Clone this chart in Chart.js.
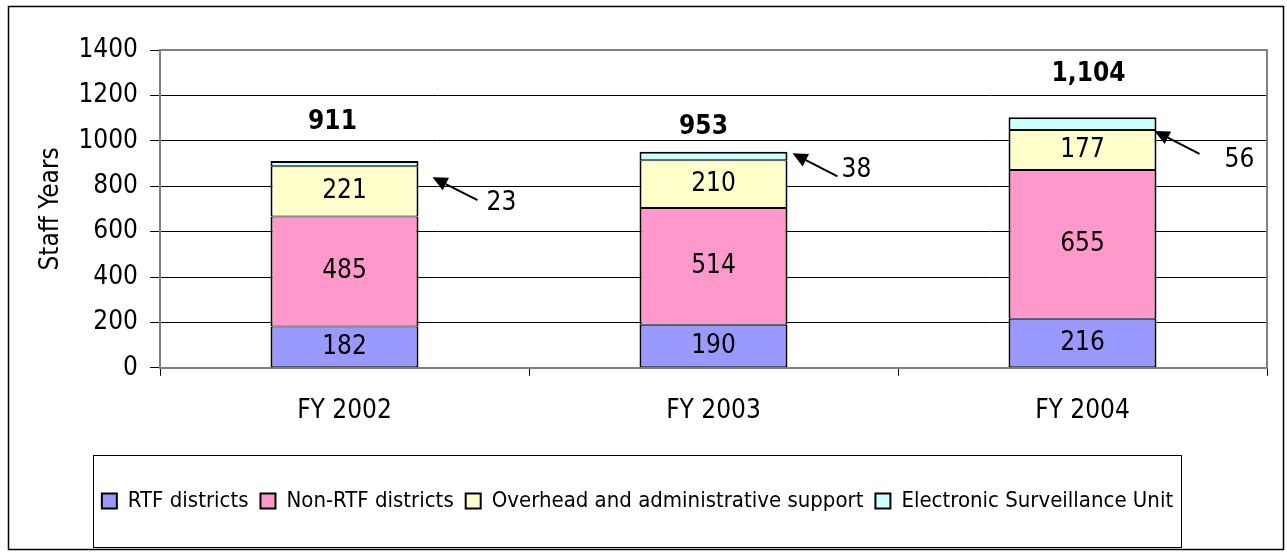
<!DOCTYPE html>
<html>
<head>
<meta charset="utf-8">
<script src="https://cdn.jsdelivr.net/npm/chart.js@4"></script>
<style>
html, body { margin: 0; padding: 0; background: #fff; }
#wrap { width: 1287px; height: 552px; position: relative; }
</style>
</head>
<body>
<div id="wrap"><canvas id="chart"></canvas></div>
<script>
// data
const categories = ["FY 2002", "FY 2003", "FY 2004"];
const rtfDistricts = [182, 190, 216];
const nonRtfDistricts = [485, 514, 655];
const overheadSupport = [221, 210, 177];
const surveillanceUnit = [23, 38, 56];
const totals = [911, 953, 1104];
const yMin = 0, yMax = 1400, yStep = 200;

const FONT = "'Liberation Sans Narrow', 'Arial Narrow', 'DejaVu Sans Condensed', sans-serif";

// hand-placed text boxes in the original, nudged in px
const totalNudge = [[-12, 39], [-10, 24], [6, 43]];
const calloutTip = [[14, 11], [5, -7], [-2, 1]];
const calloutLabel = [[24, 3], [19, -6], [40, 6]];
const calloutVec = [45, 23];

const decor = {
    id: "decor",
    beforeDraw(chart) {
        const ctx = chart.ctx;
        ctx.save();
        ctx.fillStyle = "#fff";
        ctx.fillRect(0, 0, chart.width, chart.height);
        ctx.restore();
    },
    afterDatasetsDraw(chart) {
        const ctx = chart.ctx;
        ctx.save();
        ctx.fillStyle = "#000";
        ctx.textAlign = "center";
        ctx.textBaseline = "middle";
        ctx.font = `26px ${FONT}`;
        // segment values (not the thin top one)
        for (let d = 0; d < 3; d++) {
            const meta = chart.getDatasetMeta(d);
            meta.data.forEach((bar, i) => {
                const v = chart.data.datasets[d].data[i];
                ctx.fillText(String(v), bar.x, (bar.y + bar.base) / 2);
            });
        }
        // totals
        ctx.font = `bold 26px ${FONT}`;
        chart.getDatasetMeta(3).data.forEach((bar, i) => {
            const [dx, lift] = totalNudge[i];
            ctx.fillText(totals[i].toLocaleString("en-US"), bar.x + dx, bar.y - lift);
        });
        // callouts for the surveillance unit
        ctx.font = `26px ${FONT}`;
        ctx.strokeStyle = "#000";
        ctx.lineWidth = 2;
        chart.getDatasetMeta(2).data.forEach((bar, i) => {
            const tx = bar.x + bar.width / 2 + calloutTip[i][0];
            const ty = bar.y + calloutTip[i][1];
            const ex = tx + calloutVec[0], ey = ty + calloutVec[1];
            const len = Math.hypot(calloutVec[0], calloutVec[1]);
            const ux = -calloutVec[0] / len, uy = -calloutVec[1] / len;
            const bx = tx - ux * 15, by = ty - uy * 15;
            ctx.beginPath();
            ctx.moveTo(ex, ey);
            ctx.lineTo(bx, by);
            ctx.stroke();
            ctx.beginPath();
            ctx.moveTo(tx, ty);
            ctx.lineTo(bx - uy * 7, by + ux * 7);
            ctx.lineTo(bx + uy * 7, by - ux * 7);
            ctx.closePath();
            ctx.fill();
            ctx.fillText(String(surveillanceUnit[i]), ex + calloutLabel[i][0], ey + calloutLabel[i][1]);
        });
        ctx.restore();
    },
    afterDraw(chart) {
        const { ctx, chartArea: a } = chart;
        ctx.save();
        // plot area top/right border
        ctx.strokeStyle = "#808080";
        ctx.lineWidth = 2;
        ctx.beginPath();
        ctx.moveTo(a.left, a.top);
        ctx.lineTo(a.right, a.top);
        ctx.lineTo(a.right, a.bottom);
        ctx.stroke();
        // legend frame
        const hb = chart.legend.legendHitBoxes;
        if (hb && hb.length) {
            const first = hb[0], last = hb[hb.length - 1];
            const cy = first.top + first.height / 2;
            ctx.strokeStyle = "#000";
            ctx.lineWidth = 1;
            ctx.strokeRect(Math.round(first.left - 9) + 0.5, Math.round(cy - 46) + 0.5,
                Math.round(last.left + last.width + 8 - (first.left - 9)), 92);
        }
        // outer frame
        ctx.strokeStyle = "#000";
        ctx.lineWidth = 1.5;
        ctx.strokeRect(8.5, 6.5, chart.width - 12, chart.height - 9);
        ctx.restore();
    },
};

const mkSet = (label, data, color, topEdge) => ({
    label,
    data,
    backgroundColor: color,
    borderColor: "#000",
    borderWidth: { left: 2, right: 2, top: topEdge, bottom: 1 },
    borderSkipped: false,
    categoryPercentage: 1,
    barPercentage: 0.401,
});

new Chart(document.getElementById("chart"), {
    type: "bar",
    data: {
        labels: categories,
        datasets: [
            mkSet("RTF districts", rtfDistricts, "#9999FF", 1),
            mkSet("Non-RTF districts", nonRtfDistricts, "#FF99CC", 1),
            mkSet("Overhead and administrative support", overheadSupport, "#FFFFCC", 1),
            mkSet("Electronic Surveillance Unit", surveillanceUnit, "#CCFFFF", 2),
        ],
    },
    options: {
        responsive: true,
        maintainAspectRatio: false,
        animation: false,
        layout: { padding: { left: 8, right: 20, top: 50, bottom: 30 } },
        plugins: {
            tooltip: { enabled: false },
            legend: {
                position: "bottom",
                labels: {
                    font: { family: FONT, size: 22 },
                    color: "#000",
                    boxWidth: 15,
                    boxHeight: 15,
                    padding: 12,
                    generateLabels(chart) {
                        return chart.data.datasets.map((ds, i) => ({
                            text: ds.label,
                            fillStyle: ds.backgroundColor,
                            strokeStyle: "#000",
                            lineWidth: 2,
                            hidden: false,
                            datasetIndex: i,
                            fontColor: "#000",
                        }));
                    },
                },
            },
        },
        scales: {
            x: {
                stacked: true,
                offset: true,
                grid: { display: true, drawOnChartArea: false, offset: true, tickLength: 8, color: "#000", lineWidth: 1 },
                border: { color: "#808080", width: 2 },
                ticks: { font: { family: FONT, size: 26 }, color: "#000", padding: 20 },
                afterFit(scale) {
                    scale.height += 31;
                },
            },
            y: {
                stacked: true,
                min: yMin,
                max: yMax,
                ticks: {
                    stepSize: yStep,
                    font: { family: FONT, size: 26 },
                    color: "#000",
                    padding: 12,
                    callback: (v) => String(v),
                },
                grid: { color: "#000", lineWidth: 1, tickLength: 10 },
                border: { color: "#808080", width: 2 },
                title: {
                    display: true,
                    text: "Staff Years",
                    font: { family: FONT, size: 26 },
                    color: "#000",
                    padding: { top: 28, bottom: 0 },
                },
                afterFit(scale) {
                    scale.width = 152;
                },
            },
        },
    },
    plugins: [decor],
});
</script>
</body>
</html>
